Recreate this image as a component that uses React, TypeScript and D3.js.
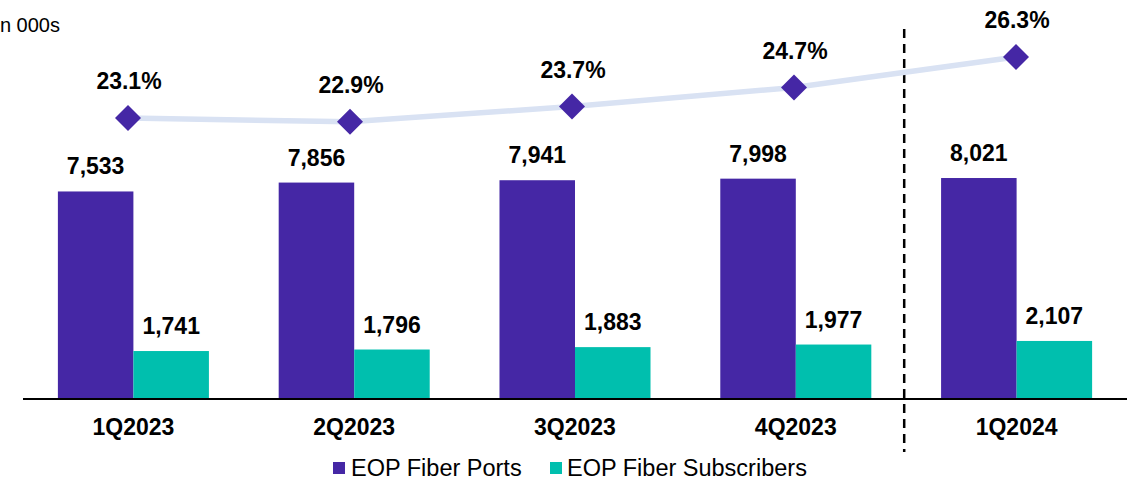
import React from "react";
import * as d3 from "d3";

const categories = ["1Q2023", "2Q2023", "3Q2023", "4Q2023", "1Q2024"];
const fiberPorts = [7533, 7856, 7941, 7998, 8021];
const fiberSubscribers = [1741, 1796, 1883, 1977, 2107];
const penetration = [23.1, 22.9, 23.7, 24.7, 26.3];
const seriesNames = ["EOP Fiber Ports", "EOP Fiber Subscribers"];
const unitLabel = "in 000s";

const W = 1135;
const H = 482;
const PURPLE = "#4527A5";
const TEAL = "#00BFAE";
const LINE = "#D9E2F3";
const FONT = "Arial, 'Liberation Sans', Helvetica, sans-serif";

export default function App() {
  const baseY = 399;
  const x = d3.scaleBand<string>().domain(categories).range([23, 1127]).paddingInner(0).paddingOuter(0);
  const sub = d3.scaleBand<string>().domain(["p", "s"]).range([x.bandwidth() * 0.158, x.bandwidth() * 0.842]);
  const y = d3.scaleLinear().domain([0, 10000]).range([baseY, baseY - 275.5]);
  const xl = d3.scalePoint<string>().domain(categories).range([128, 1016]);
  const y2 = d3.scaleLinear().domain([20, 27]).range([177.1, 43.7]);
  const line = d3
    .line<number>()
    .x((_, i) => xl(categories[i])!)
    .y((d) => y2(d));
  const fmt = d3.format(",");
  const dashX = x(categories[4])! - 2;
  const half = 13;

  return (
    <svg width={W} height={H} style={{ position: "absolute", left: 0, top: 0 }} fontFamily={FONT}>
      <rect width={W} height={H} fill="#fff" />
      <text x={-4.5} y={32} fontSize={20} fill="#000">{unitLabel}</text>

      {categories.map((c, i) => {
        const x0 = x(c)! + x.bandwidth() / 2 - x.bandwidth() * 0.342;
        const pX = x0;
        const sX = x0 + sub.bandwidth();
        return (
          <g key={c}>
            <rect x={pX} y={y(fiberPorts[i])} width={sub.bandwidth()} height={baseY - y(fiberPorts[i])} fill={PURPLE} />
            <rect x={sX} y={y(fiberSubscribers[i])} width={sub.bandwidth()} height={baseY - y(fiberSubscribers[i])} fill={TEAL} />
            <text x={pX + sub.bandwidth() / 2} y={y(fiberPorts[i]) - 17} textAnchor="middle" fontSize={23} fontWeight="bold">{fmt(fiberPorts[i])}</text>
            <text x={sX + sub.bandwidth() / 2} y={y(fiberSubscribers[i]) - 17} textAnchor="middle" fontSize={23} fontWeight="bold">{fmt(fiberSubscribers[i])}</text>
            <text x={x(c)! + x.bandwidth() / 2} y={435} textAnchor="middle" fontSize={23} fontWeight="bold">{c}</text>
          </g>
        );
      })}

      <line x1={23} x2={1127} y1={baseY} y2={baseY} stroke="#000" strokeWidth={2} />
      <line x1={dashX} x2={dashX} y1={29} y2={452} stroke="#000" strokeWidth={2.5} strokeDasharray="9,6" />

      <path d={line(penetration) || ""} fill="none" stroke={LINE} strokeWidth={5.5} />
      {penetration.map((v, i) => {
        const cx = xl(categories[i])!;
        const cy = y2(v);
        return (
          <g key={i}>
            <path d={`M${cx},${cy - half}L${cx + half},${cy}L${cx},${cy + half}L${cx - half},${cy}Z`} fill={PURPLE} />
            <text x={cx + 1} y={cy - 29} textAnchor="middle" fontSize={23} fontWeight="bold">{v.toFixed(1)}%</text>
          </g>
        );
      })}

      <g>
        <rect x={333} y={462} width={12} height={12} fill={PURPLE} />
        <text x={351} y={476} fontSize={23.5}>{seriesNames[0]}</text>
        <rect x={550} y={462} width={12} height={12} fill={TEAL} />
        <text x={567} y={476} fontSize={23.5}>{seriesNames[1]}</text>
      </g>
    </svg>
  );
}
